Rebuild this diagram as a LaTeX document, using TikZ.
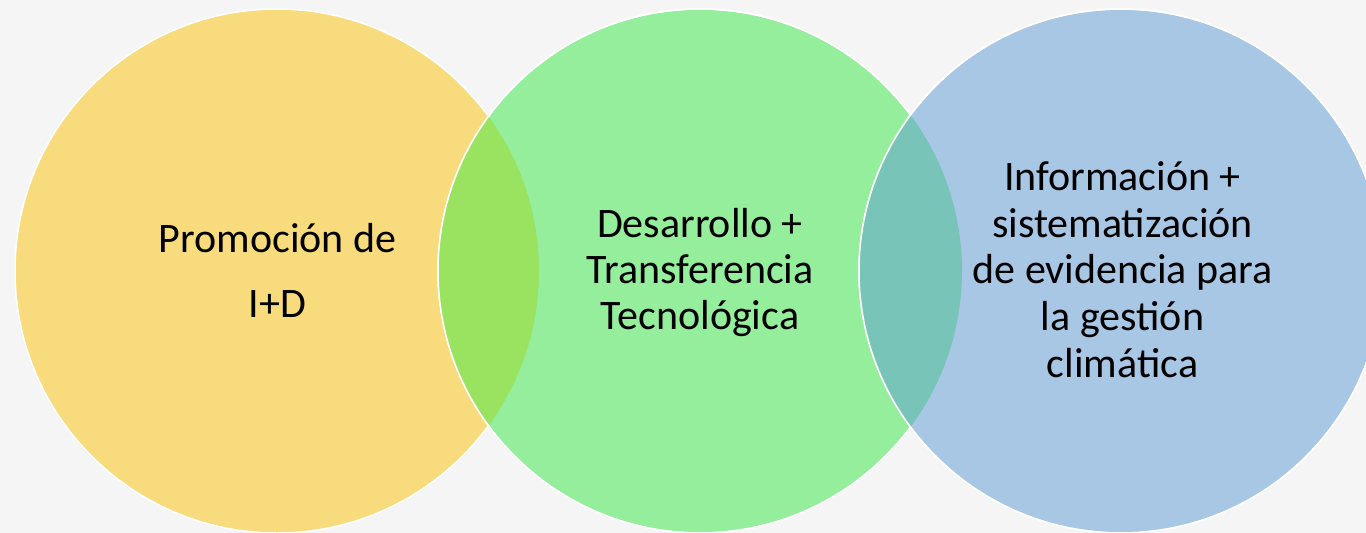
\documentclass[tikz,border=0pt]{standalone}
\usepackage{fontspec}
\setmainfont{Carlito}
\definecolor{fondo}{HTML}{F5F5F5}
\definecolor{amarillo}{HTML}{F8DB7C}
\definecolor{verde}{HTML}{95EE9C}
\definecolor{azul}{HTML}{A8C7E4}
\definecolor{verdeam}{HTML}{99E361}
\definecolor{verdeaz}{HTML}{78C4B9}
\tikzset{
  bola/.style={circle, inner sep=0pt, minimum size=524pt, draw=white, line width=1.5pt},
  texto/.style={align=center, font=\fontsize{42}{46}\selectfont, anchor=base}
}

\begin{document}
\begin{tikzpicture}[x=1pt,y=-1pt]
   \useasboundingbox (0,0) rectangle (1366,533);
   \clip (0,0) rectangle (1366,533);
   \fill[fondo] (0,0) rectangle (1366,533);
   % circulos
   \node[bola, fill=amarillo] (ida)  at (277,271) {};
   \node[bola, fill=verde]    (dtt)  at (700,271) {};
   \begin{scope}
     \clip (ida.center) circle[radius=262pt];
     \fill[verdeam] (dtt.center) circle[radius=262pt];
   \end{scope}
   \draw[white, line width=1.5pt] (dtt.center) circle[radius=262pt];
   \node[bola, fill=azul]     (info) at (1121,271) {};
   \begin{scope}
     \clip (dtt.center) circle[radius=262pt];
     \fill[verdeaz] (info.center) circle[radius=262pt];
   \end{scope}
   \draw[white, line width=1.5pt] (info.center) circle[radius=262pt];
   % textos (base = ultima linea)
   \node[texto, font=\fontsize{42}{65}\selectfont] (tida) at (277.5,317) {Promoción de\\I+D};
   \node[texto] (tdtt)  at (700,329) {Desarrollo +\\Transferencia\\Tecnológica};
   \node[texto, font=\fontsize{42}{46.8}\selectfont] (tinfo) at (1122.5,377.5) {Información +\\sistematización\\de evidencia para\\la gestión\\climática};
\end{tikzpicture}
\end{document}
